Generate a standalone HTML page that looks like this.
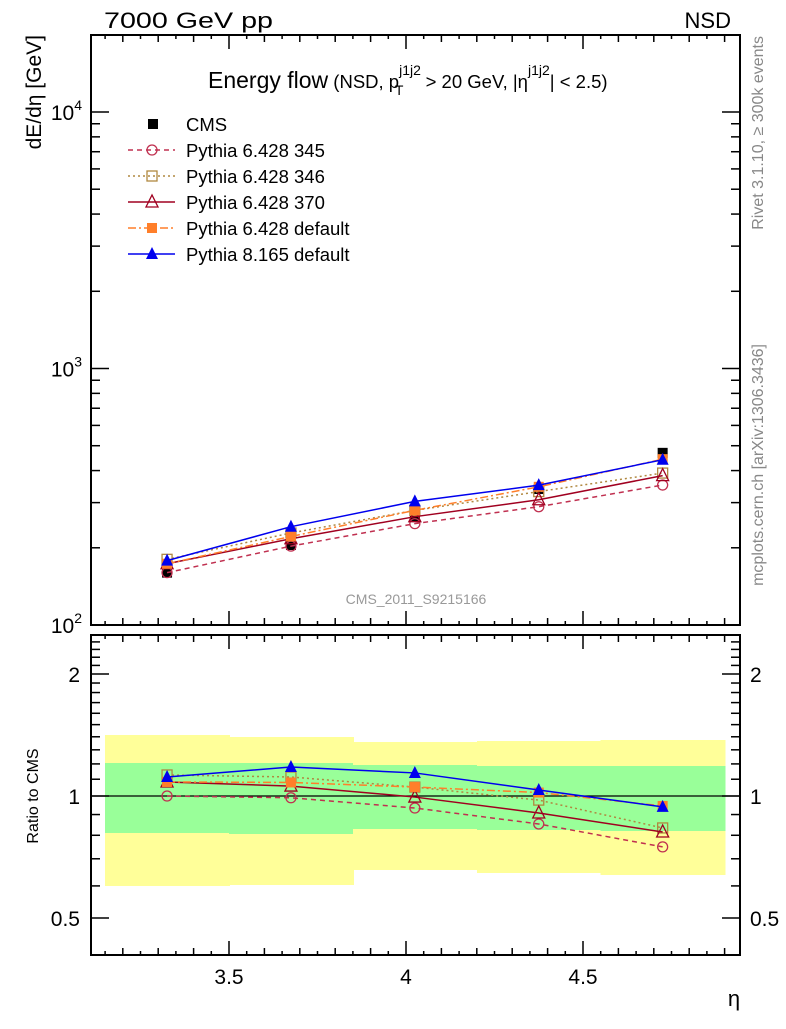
<!DOCTYPE html>
<html><head><meta charset="utf-8"><style>
body{margin:0;background:#fff;}
svg{font-family:"Liberation Sans","DejaVu Sans",sans-serif;}
</style></head><body>
<svg id="c" width="786" height="1024" xmlns="http://www.w3.org/2000/svg"></svg>
<script>
const etaBins=[3.325,3.675,4.025,4.375,4.725];
const binEdges=[3.15,3.5,3.85,4.2,4.55,4.9];
const cmsVals=[160,205,266,339,469];
const r345=[1.0,0.99,0.934,0.853,0.749];
const r346=[1.127,1.114,1.052,0.977,0.834];
const r370=[1.083,1.058,0.994,0.908,0.815];
const r6def=[1.083,1.08,1.052,1.02,0.945];
const r8def=[1.114,1.179,1.14,1.035,0.94];
const band1Hi=[1.206,1.206,1.192,1.186,1.186];
const band1Lo=[0.810,0.806,0.829,0.824,0.820];
const band2Hi=[1.414,1.398,1.359,1.367,1.375];
const band2Lo=[0.600,0.603,0.657,0.646,0.638];
const xTicks=[3.5,4,4.5];
const mainTicks=[100,1000,10000];
const ratioTicks=[0.5,1,2];

const NS="http://www.w3.org/2000/svg";
const svg=document.getElementById('c');
const L=91,R=740,MT=35,MB=625,RT=635,RB=955;
const X=v=>229+(v-3.5)*354;
const YM=v=>625-(Math.log10(v)-2)*256.5;
const YR=v=>796-Math.log2(v)*122;
function el(tag,attrs,parent){const e=document.createElementNS(NS,tag);for(const k in attrs)e.setAttribute(k,attrs[k]);(parent||svg).appendChild(e);return e;}
function txt(s,x,y,size,anchor,parent,extra){const t=el('text',Object.assign({x:x,y:y,'font-size':size,'text-anchor':anchor||'start'},extra||{}),parent);t.textContent=s;return t;}

// ratio bands
const gb=el('g',{'shape-rendering':'crispEdges'});


for(let i=0;i<etaBins.length;i++){
  const x1=X(binEdges[i]),x2=X(binEdges[i+1])+1;
  const y=el('rect',{x:x1,y:YR(band2Hi[i]),width:x2-x1,height:YR(band2Lo[i])-YR(band2Hi[i]),fill:'#ffff99'},gb);
  
  
  const g=el('rect',{x:x1,y:YR(band1Hi[i]),width:x2-x1,height:YR(band1Lo[i])-YR(band1Hi[i]),fill:'#99ff99'},gb);
  
  
}
el('line',{x1:L,x2:R,y1:YR(1),y2:YR(1),stroke:'#000','stroke-width':1.2});

// frames
for(const [t,b] of [[MT,MB],[RT,RB]]){
  el('rect',{x:L,y:t,width:R-L,height:b-t,fill:'none',stroke:'#000','stroke-width':2});
}
// x ticks
for(let k=0;k<=36;k++){
  const v=3.15+k*0.05; const vv=Math.round(v*100)/100;
  if(vv<3.11||vv>4.94)continue;
  const x=X(vv);
  const major=Math.abs(vv*2-Math.round(vv*2))<1e-6;
  const mid=Math.abs(vv*10-Math.round(vv*10))<1e-6;
  const len=major?14:(mid?7:4);
  for(const [t,b] of [[MT,MB],[RT,RB]]){
    el('line',{x1:x,x2:x,y1:b,y2:b-len,stroke:'#000','stroke-width':1.5});
    el('line',{x1:x,x2:x,y1:t,y2:t+len,stroke:'#000','stroke-width':1.5});
  }
}
xTicks.forEach(v=>{const t=txt(String(v),X(v),984,21,'middle');});
const xt=txt('η',734,1006,22,'middle');



// main y ticks
for(let d=100;d<=10000;d*=10){
  for(let m=1;m<=9;m++){
    const v=d*m;const y=YM(v);
    if(y<MT||y>MB)continue;
    const len=m===1?18:9;
    el('line',{x1:L,x2:L+len,y1:y,y2:y,stroke:'#000','stroke-width':1.5});
    el('line',{x1:R,x2:R-len,y1:y,y2:y,stroke:'#000','stroke-width':1.5});
  }
}
mainTicks.forEach(v=>{
  const g=el('text',{x:82,y:YM(v)+8,'font-size':21,'text-anchor':'end'});
  
  
  g.textContent='10';
  const s=el('tspan',{'font-size':14,dy:-10},g);s.textContent=String(Math.round(Math.log10(v)));
});
// ratio y ticks
for(let k=4;k<=25;k++){
  const v=k/10;const y=YR(v);
  if(y<RT||y>RB)continue;
  const major=(k===5||k===10||k===20);
  const len=major?18:9;
  el('line',{x1:L,x2:L+len,y1:y,y2:y,stroke:'#000','stroke-width':1.5});
  el('line',{x1:R,x2:R-len,y1:y,y2:y,stroke:'#000','stroke-width':1.5});
}
ratioTicks.forEach(v=>{
  const a=txt(String(v),80,YR(v)+8,21,'end');
  const b=txt(String(v),750,YR(v)+8,21,'start');
});

// series
const series=[
 {name:'pythia-6428-345',r:r345,color:'#c03050',dash:'5,4',mk:'circle'},
 {name:'pythia-6428-346',r:r346,color:'#b08840',dash:'2,3',mk:'square'},
 {name:'pythia-6428-370',r:r370,color:'#a00020',dash:'',mk:'tri'},
 {name:'pythia-6428-default',r:r6def,color:'#ff7f2a',dash:'8,3,2,3',mk:'fsquare'},
 {name:'pythia-8165-default',r:r8def,color:'#0000ee',dash:'',mk:'ftri'}
];
function marker(type,x,y,color,parent){
  let m;
  if(type==='circle')m=el('circle',{cx:x,cy:y,r:5,fill:'none',stroke:color,'stroke-width':1.3},parent);
  else if(type==='square')m=el('rect',{x:x-5,y:y-5,width:10,height:10,fill:'none',stroke:color,'stroke-width':1.3},parent);
  else if(type==='fsquare')m=el('rect',{x:x-5,y:y-5,width:10,height:10,fill:color},parent);
  else if(type==='csquare')m=el('rect',{x:x-5,y:y-5,width:10,height:10,fill:'#000'},parent);
  else if(type==='tri')m=el('polygon',{points:`${x},${y-7} ${x-6},${y+5} ${x+6},${y+5}`,fill:'none',stroke:color,'stroke-width':1.3},parent);
  else m=el('polygon',{points:`${x},${y-7} ${x-6},${y+5} ${x+6},${y+5}`,fill:color},parent);
  
  
}
// CMS main
const gc=el('g',{});


etaBins.forEach((e,i)=>marker('csquare',X(e),YM(cmsVals[i]),'#000',gc));
series.forEach(s=>{
  const g=el('g',{});
  
  
  const pts=etaBins.map((e,i)=>X(e)+','+YM(s.r[i]*cmsVals[i])).join(' ');
  el('polyline',{points:pts,fill:'none',stroke:s.color,'stroke-width':1.5,'stroke-dasharray':s.dash},g);
  etaBins.forEach((e,i)=>marker(s.mk,X(e),YM(s.r[i]*cmsVals[i]),s.color,g));
  const g2=el('g',{});
  
  
  const pts2=etaBins.map((e,i)=>X(e)+','+YR(s.r[i])).join(' ');
  el('polyline',{points:pts2,fill:'none',stroke:s.color,'stroke-width':1.5,'stroke-dasharray':s.dash},g2);
  etaBins.forEach((e,i)=>marker(s.mk,X(e),YR(s.r[i]),s.color,g2));
});

// legend
const lg=el('g',{});


const labels=['CMS','Pythia 6.428 345','Pythia 6.428 346','Pythia 6.428 370','Pythia 6.428 default','Pythia 8.165 default'];
labels.forEach((lab,i)=>{
  const y=124+i*26;
  const g=el('g',{},lg);
  
  
  if(i===0)marker('csquare',153,y,'#000',g);
  else{const s=series[i-1];
    el('line',{x1:128,x2:175,y1:y,y2:y,stroke:s.color,'stroke-width':1.5,'stroke-dasharray':s.dash},g);
    marker(s.mk,152,y,s.color,g);}
  txt(lab,186,y+7,18.5,'start',g);
});

// titles
const t1=txt('7000 GeV pp',104,28,22,'start',null,{textLength:169,lengthAdjust:'spacingAndGlyphs'});
const t2=txt('NSD',731,28,22,'end');
const tt=el('text',{x:208,y:88,'font-size':23});


tt.innerHTML='Energy flow<tspan font-size="18.5"> (NSD, p</tspan><tspan font-size="14" dy="-13">j1j2</tspan><tspan font-size="14" dx="-26" dy="20">T</tspan><tspan font-size="18.5" dx="17" dy="-7"> &gt; 20 GeV, |η</tspan><tspan font-size="14" dy="-13">j1j2</tspan><tspan font-size="18.5" dy="13">| &lt; 2.5)</tspan>';
const yt=txt('dE/dη [GeV]',0,0,21,'end');
yt.setAttribute('transform','translate(41,35) rotate(-90)');


const rt=txt('Ratio to CMS',0,0,16,'middle');
rt.setAttribute('transform','translate(38,796) rotate(-90)');


const w1=txt('Rivet 3.1.10, ≥ 300k events',0,0,16,'end',null,{fill:'#888'});
w1.setAttribute('transform','translate(763,36) rotate(-90)');


const w2=txt('mcplots.cern.ch [arXiv:1306.3436]',0,0,16,'end',null,{fill:'#888'});
w2.setAttribute('transform','translate(763,344) rotate(-90)');


const an=txt('CMS_2011_S9215166',416,604,14,'middle',null,{fill:'#999'});


</script>
</body></html>
